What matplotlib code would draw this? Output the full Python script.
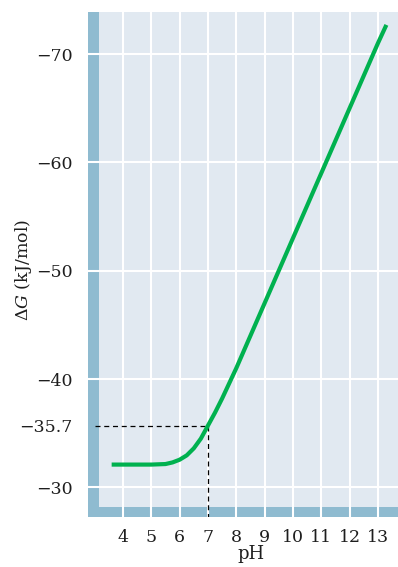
import matplotlib
matplotlib.use("Agg")
import matplotlib.pyplot as plt
from matplotlib.patches import Rectangle

# values
ph = [3.6, 4.0, 4.5, 5.0, 5.5, 5.75, 6.0, 6.25, 6.5, 6.75, 7.0, 7.25, 7.5, 8.0,
      9.0, 10.0, 11.0, 12.0, 13.0, 13.3]
dg = [-32.1, -32.1, -32.1, -32.1, -32.15, -32.3, -32.55, -32.95, -33.6, -34.5,
      -35.7, -36.9, -38.2, -41.0, -47.0, -53.0, -59.0, -65.0, -71.0, -72.7]

x_ticks = [4, 5, 6, 7, 8, 9, 10, 11, 12, 13]
y_grid = [-70, -60, -50, -40, -30]
y_ticks = [-70, -60, -50, -40, -35.7, -30]
y_tick_labels = ["\u221270", "\u221260", "\u221250", "\u221240", "\u221235.7", "\u221230"]
mark_ph = 7
mark_dg = -35.7

band = "#8fbbd0"
light = "#e1e9f1"
green = "#00b14f"

plt.rcParams["font.family"] = ["DejaVu Serif"]
plt.rcParams["mathtext.fontset"] = "dejavuserif"

fig = plt.figure(figsize=(3.98, 5.67), dpi=100)
ax = fig.add_axes([88 / 398, 50 / 567, 310 / 398, 505 / 567])
ax.set_xlim(2.765, 13.71)
ax.set_ylim(-27.26, -73.89)
ax.set_facecolor(band)
for s in ax.spines.values():
    s.set_visible(False)

# light plotting area, leaving the blue bands left and bottom
ax.add_patch(Rectangle((11 / 310, 10 / 505), 1, 1, transform=ax.transAxes,
                       facecolor=light, edgecolor="none", zorder=0))

for v in x_ticks:
    ax.axvline(v, color="white", lw=1.5, zorder=1)
for v in y_grid:
    ax.axhline(v, color="white", lw=1.5, zorder=1)

ax.plot([3.01, mark_ph], [mark_dg, mark_dg], color="black", lw=0.9,
        dashes=(4, 3), zorder=2)
ax.plot([mark_ph, mark_ph], [mark_dg, -27.26], color="black", lw=0.9,
        dashes=(4, 3), zorder=2)

ax.plot(ph, dg, color=green, lw=3, solid_capstyle="butt",
        solid_joinstyle="round", zorder=3)

ax.set_xticks(x_ticks)
ax.set_xticklabels([str(v) for v in x_ticks])
ax.set_yticks(y_ticks)
ax.set_yticklabels(y_tick_labels)
ax.tick_params(length=0, labelsize=12.5, colors="#1e1e1e")
ax.tick_params(axis="y", pad=11)
ax.tick_params(axis="x", pad=9)

ax.set_xlabel("pH", fontsize=13, color="#1e1e1e", labelpad=1)
ax.xaxis.set_label_coords(0.525, -0.055)
ax.set_ylabel(r"$\Delta G$ (kJ/mol)", fontsize=12.5, color="#1e1e1e")
ax.yaxis.set_label_coords(-0.175, 0.49)

fig.savefig("out.png", dpi=100)
